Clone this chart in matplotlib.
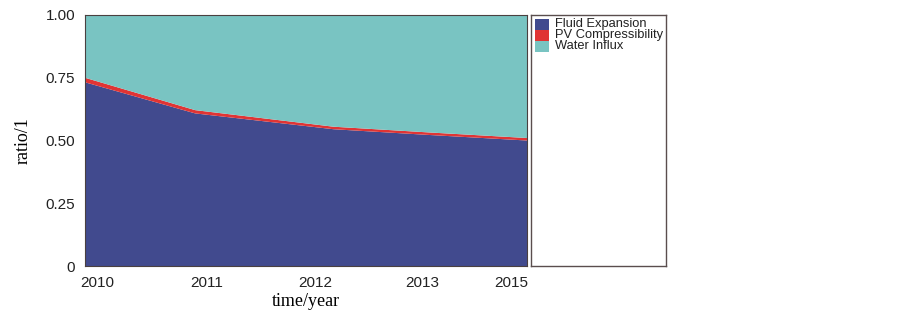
import matplotlib.pyplot as plt
from matplotlib.patches import Rectangle

# sample times (years after start of 2010, roughly as drawn)
time = [0.0, 1.02, 2.30, 3.19, 4.09]
fluid_expansion = [0.732, 0.608, 0.545, 0.522, 0.500]
pv_compress = [0.018, 0.013, 0.010, 0.010, 0.010]
water_influx = [0.250, 0.379, 0.445, 0.468, 0.490]

tick_pos = [0.11, 1.13, 2.13, 3.12, 3.94]
tick_labels = ["2010", "2011", "2012", "2013", "2015"]
yticks = [0, 0.25, 0.5, 0.75, 1.0]
ytick_labels = ["0", "0.25", "0.50", "0.75", "1.00"]

names = ["Fluid Expansion", "PV Compressibility", "Water Influx"]
colors = ["#414a8e", "#e03434", "#79c4c2"]

plt.rcParams["font.family"] = ["Liberation Sans", "DejaVu Sans"]

fig = plt.figure(figsize=(9.03, 3.19), dpi=100)
ax = fig.add_axes([0.0941, 0.166, 0.4895, 0.787])

ax.stackplot(time, fluid_expansion, pv_compress, water_influx,
             colors=colors, linewidth=0)
ax.set_xlim(time[0], time[-1])
ax.set_ylim(0, 1.0)

ax.set_xticks(tick_pos)
ax.set_xticklabels(tick_labels, fontsize=11, color="#222222")
ax.set_yticks(yticks)
ax.set_yticklabels(ytick_labels, fontsize=11, color="#222222")
ax.tick_params(length=0, pad=7)

for s in ax.spines.values():
    s.set_color("#4a4040")
    s.set_linewidth(0.8)

ax.set_xlabel("time/year", family=["Liberation Serif"], fontsize=13, labelpad=2)
ax.set_ylabel("ratio/1", family=["Liberation Serif"], fontsize=13, labelpad=10)

# --- legend panel ---
lax = fig.add_axes([0.588, 0.166, 0.1495, 0.787])
lax.set_xlim(0, 1)
lax.set_ylim(0, 1)
lax.set_xticks([])
lax.set_yticks([])
for s in lax.spines.values():
    s.set_color("#5a4e4e")
    s.set_linewidth(1.0)

row_h = 0.044
for i, (n, c) in enumerate(zip(names, colors)):
    y_top = 0.985 - i * row_h
    lax.add_patch(Rectangle((0.03, y_top - row_h), 0.105, row_h,
                            facecolor=c, edgecolor="none"))
    lax.text(0.18, y_top - row_h / 2, n, fontsize=9.3, va="center",
             ha="left", color="#222222")

fig.savefig("out.png", dpi=100)
